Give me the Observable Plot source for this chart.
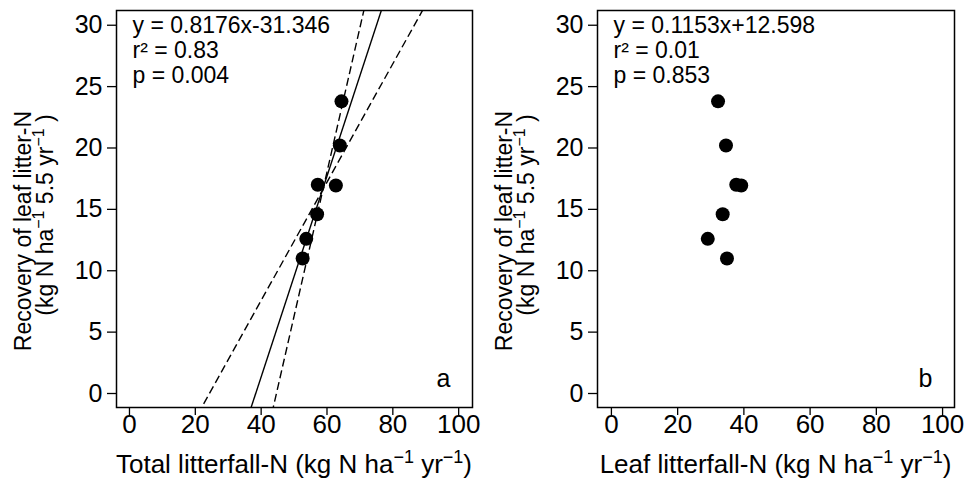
<!DOCTYPE html>
<html><head><meta charset="utf-8">
<script src="https://cdn.jsdelivr.net/npm/d3@7"></script>
<script src="https://cdn.jsdelivr.net/npm/@observablehq/plot@0.6"></script>
<style>
body{margin:0;background:#fff;}
#wrap{position:relative;width:965px;height:483px;background:#fff;}
#wrap svg{position:absolute;top:0;}
#wrap g[aria-label="x-axis tick label"]{font-size:26px !important;}
#wrap g[aria-label="y-axis tick label"]{font-size:25px !important;}
</style></head><body><div id="wrap"></div>
<script>
// ---- data ----
const recovery = [23.8, 20.2, 17.0, 16.95, 14.6, 12.6, 11.0];
const totalLitterfallN = [64.4, 63.9, 57.2, 62.7, 57.0, 53.7, 52.6];
const leafLitterfallN = [32.2, 34.6, 37.7, 39.2, 33.6, 29.1, 34.9];

// fitted line and its confidence lines (panel a)
const lineKinds = ["fit", "lower", "upper"];
const lineSlopes = [0.8176, 0.482, 1.175];
const lineIntercepts = [-31.346, -11.70, -52.45];

const annotA = ["y = 0.8176x-31.346", "r² = 0.83", "p = 0.004"];
const annotB = ["y = 0.1153x+12.598", "r² = 0.01", "p = 0.853"];

const xTicks = [0, 20, 40, 60, 80, 100];
const yTicks = [0, 5, 10, 15, 20, 25, 30];

const FONT = "'Liberation Sans', Arial, Helvetica, sans-serif";

function panel({xs, ys, withLines, annot, letter, xTitleParts, ml, mr, width, left, xDomain}) {
  const pts = xs.map((x, i) => ({x, y: ys[i]}));
  const lines = withLines ? lineKinds.map((k, i) => ({
    kind: k,
    x1: -20, y1: lineSlopes[i] * -20 + lineIntercepts[i],
    x2: 120, y2: lineSlopes[i] * 120 + lineIntercepts[i]
  })) : [];
  const svg = Plot.plot({
    width, height: 483,
    marginLeft: ml, marginRight: mr, marginTop: 10, marginBottom: 76,
    x: {domain: xDomain},
    y: {domain: [-1.14, 31.2]},
    style: {fontFamily: FONT, fontSize: "23px", color: "black", background: "white", overflow: "visible"},
    marks: [
      Plot.axisX({ticks: xTicks, tickSize: 8, tickPadding: -1, label: null, strokeWidth: 1.3}),
      Plot.axisY({ticks: yTicks, tickSize: 9, tickPadding: 5, label: null, strokeWidth: 1.3}),
      Plot.link(lines.filter(d => d.kind !== "fit"), {x1: "x1", y1: "y1", x2: "x2", y2: "y2", clip: true, stroke: "black", strokeWidth: 1.4, strokeDasharray: "8,4"}),
      Plot.link(lines.filter(d => d.kind === "fit"), {x1: "x1", y1: "y1", x2: "x2", y2: "y2", clip: true, stroke: "black", strokeWidth: 1.4}),
      Plot.dot(pts, {x: "x", y: "y", r: 7, fill: "black", stroke: "none"}),
      Plot.text([annot.join("\n")], {text: d => d, frameAnchor: "top-left", textAnchor: "start", lineAnchor: "top", lineHeight: 1.08, dx: 16, dy: 5, fontSize: 23, fill: "black"}),
      Plot.text([letter], {text: d => d, frameAnchor: "bottom-right", textAnchor: "middle", dx: -29, dy: -21, fontSize: 25, fill: "black"}),
      Plot.frame({stroke: "black", strokeWidth: 1.5})
    ]
  });
  svg.style.left = left + "px";
  const s = d3.select(svg);
  // x title
  const fx = ml + (width - ml - mr) / 2;
  addRich(s.append("text").attr("x", fx).attr("y", 473).attr("text-anchor", "middle").attr("font-size", 26), xTitleParts, 18, 10);
  // y title, two lines
  s.append("text").attr("transform", `translate(${ml - 85},231) rotate(-90)`).attr("text-anchor", "middle").attr("font-size", 23)
    .attr("fill", "black").attr("font-family", FONT).text("Recovery of leaf litter-N");
  addRich(s.append("text").attr("transform", `translate(${ml - 63},215) rotate(-90)`).attr("text-anchor", "middle").attr("font-size", 23),
    [["(kg N ha", false], ["−1", true], [" 5.5 yr", false], ["−1", true], [" )", false]], 16, 9);
  return svg;
}

function addRich(t, parts, supSize, shift) {
  t.attr("fill", "black").attr("font-family", FONT);
  let up = false;
  for (const [str, sup] of parts) {
    const ts = t.append("tspan").text(str);
    if (sup && !up) { ts.attr("dy", -shift).attr("font-size", supSize); up = true; }
    else if (sup) { ts.attr("font-size", supSize); }
    else if (up) { ts.attr("dy", shift); up = false; }
  }
}

const wrap = document.getElementById("wrap");
wrap.appendChild(panel({
  xs: totalLitterfallN, ys: recovery, withLines: true, annot: annotA, letter: "a",
  xTitleParts: [["Total litterfall-N (kg N ha", false], ["−1", true], [" yr", false], ["−1", true], [")", false]],
  ml: 116, mr: 10, width: 482, left: 0, xDomain: [-3.94, 104.2]
}));
wrap.appendChild(panel({
  xs: leafLitterfallN, ys: recovery, withLines: false, annot: annotB, letter: "b",
  xTitleParts: [["Leaf litterfall-N (kg N ha", false], ["−1", true], [" yr", false], ["−1", true], [")", false]],
  ml: 115, mr: 11, width: 483, left: 482, xDomain: [-4.2, 103.6]
}));
</script></body></html>
